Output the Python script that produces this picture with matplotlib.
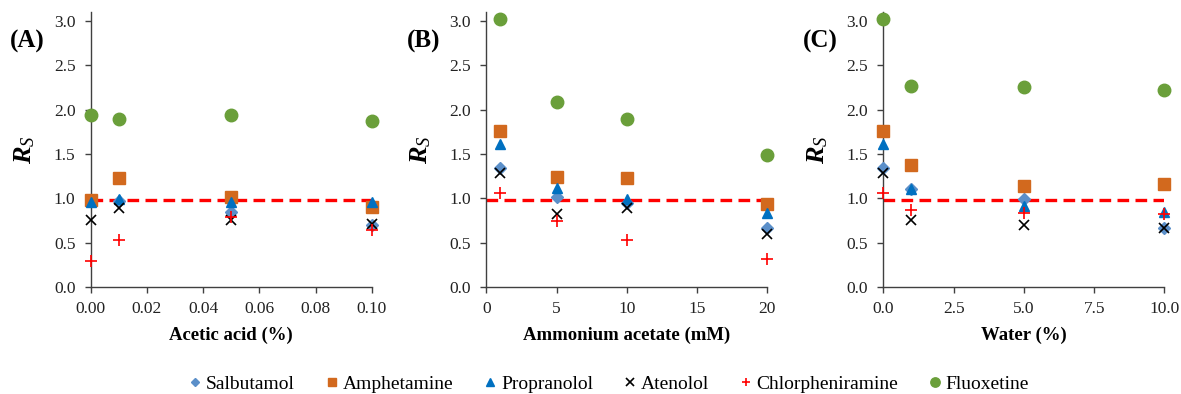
import matplotlib
matplotlib.use("Agg")
import matplotlib.pyplot as plt
from matplotlib.ticker import FormatStrFormatter

plt.rcParams['font.family'] = ['Liberation Serif', 'DejaVu Serif']
plt.rcParams['mathtext.fontset'] = 'custom'
plt.rcParams['mathtext.rm'] = 'Liberation Serif'
plt.rcParams['mathtext.it'] = 'Liberation Serif:italic'
plt.rcParams['mathtext.bf'] = 'Liberation Serif:bold'
plt.rcParams['mathtext.bfit'] = 'Liberation Serif:bold:italic'

compounds = ["Salbutamol", "Amphetamine", "Propranolol", "Atenolol", "Chlorpheniramine", "Fluoxetine"]

# Panel A: acetic acid (%)
x_a = [0.0, 0.01, 0.05, 0.10]
a_salbutamol = [0.97, 0.97, 0.84, 0.70]
a_amphetamine = [0.98, 1.23, 1.02, 0.90]
a_propranolol = [0.96, 0.99, 0.96, 0.96]
a_atenolol = [0.76, 0.89, 0.75, 0.71]
a_chlorphen = [0.29, 0.53, 0.79, 0.64]
a_fluoxetine = [1.94, 1.89, 1.94, 1.87]

# Panel B: ammonium acetate (mM)
x_b = [1, 5, 10, 20]
b_salbutamol = [1.34, 1.02, 0.95, 0.66]
b_amphetamine = [1.76, 1.24, 1.23, 0.93]
b_propranolol = [1.61, 1.12, 0.99, 0.83]
b_atenolol = [1.29, 0.82, 0.89, 0.60]
b_chlorphen = [1.06, 0.74, 0.53, 0.32]
b_fluoxetine = [3.02, 2.08, 1.89, 1.49]

# Panel C: water (%)
x_c = [0, 1, 5, 10]
c_salbutamol = [1.34, 1.10, 0.99, 0.66]
c_amphetamine = [1.76, 1.37, 1.14, 1.16]
c_propranolol = [1.61, 1.10, 0.91, 0.84]
c_atenolol = [1.29, 0.76, 0.70, 0.67]
c_chlorphen = [1.06, 0.87, 0.83, 0.82]
c_fluoxetine = [3.02, 2.27, 2.25, 2.22]

threshold = 0.98

xlabels = ["Acetic acid (%)", "Ammonium acetate (mM)", "Water (%)"]
panel_labels = ["(A)", "(B)", "(C)"]
xlims = [(0, 0.10), (0, 20), (0, 10)]
xticks = [[0, 0.02, 0.04, 0.06, 0.08, 0.10], [0, 5, 10, 15, 20], [0, 2.5, 5, 7.5, 10]]
xfmts = ["%.2f", "%d", "%.1f"]
yticks = [0, 0.5, 1.0, 1.5, 2.0, 2.5, 3.0]

styles = [
    dict(marker="D", color="#5B8FC9", ms=6, ls="none"),
    dict(marker="s", color="#D2691E", ms=8, ls="none"),
    dict(marker="^", color="#0070C0", ms=7.5, ls="none"),
    dict(marker="x", color="black", ms=7.5, mew=1.2, ls="none"),
    dict(marker="+", color="#FF0000", ms=8, mew=1.2, ls="none"),
    dict(marker="o", color="#6A9F3A", ms=9, ls="none"),
]

panels = [
    (x_a, [a_salbutamol, a_amphetamine, a_propranolol, a_atenolol, a_chlorphen, a_fluoxetine]),
    (x_b, [b_salbutamol, b_amphetamine, b_propranolol, b_atenolol, b_chlorphen, b_fluoxetine]),
    (x_c, [c_salbutamol, c_amphetamine, c_propranolol, c_atenolol, c_chlorphen, c_fluoxetine]),
]

fig = plt.figure(figsize=(11.81, 3.94), dpi=100)
lefts = [0.0768, 0.4118, 0.748]
plabel_x = [0.0085, 0.3445, 0.680]
width = 0.238
bottom = 0.2716
height = 0.698

handles = None
for i, (xs, series) in enumerate(panels):
    ax = fig.add_axes([lefts[i], bottom, width, height])
    ax.axhline(threshold, color="#FF0000", lw=2.4, dashes=(3.5, 1.9), zorder=1)
    hs = []
    for name, ys, st in zip(compounds, series, styles):
        h, = ax.plot(xs, ys, label=name, clip_on=False, zorder=3, **st)
        hs.append(h)
    handles = hs
    ax.set_xlim(*xlims[i])
    ax.set_ylim(0, 3.1)
    ax.set_xticks(xticks[i])
    ax.xaxis.set_major_formatter(FormatStrFormatter(xfmts[i]))
    ax.set_yticks(yticks)
    ax.yaxis.set_major_formatter(FormatStrFormatter("%.1f"))
    for s in ["top", "right"]:
        ax.spines[s].set_visible(False)
    for s in ["left", "bottom"]:
        ax.spines[s].set_color("#404040")
        ax.spines[s].set_linewidth(1.0)
    ax.tick_params(axis="both", direction="out", length=4, width=1.0, color="#404040",
                   labelsize=12.5, labelcolor="#222222")
    ax.tick_params(axis="x", pad=6)
    ax.tick_params(axis="y", pad=7)
    ax.set_xlabel(xlabels[i], fontsize=13.5, fontweight="bold", labelpad=7)
    ax.set_ylabel(r"$\mathbfit{R}_{\mathit{S}}$", fontsize=19)
    ax.yaxis.set_label_coords(-0.19, 0.5)
    fig.text(plabel_x[i], 0.895, panel_labels[i], fontsize=18, fontweight="bold",
             ha="left", va="center")

fig.legend(handles, compounds, loc="center", bbox_to_anchor=(0.516, 0.025), ncol=6,
           frameon=False, fontsize=14, handletextpad=0.25, columnspacing=1.6,
           handlelength=0.6, markerscale=0.75)

fig.savefig("out.png", dpi=100)
